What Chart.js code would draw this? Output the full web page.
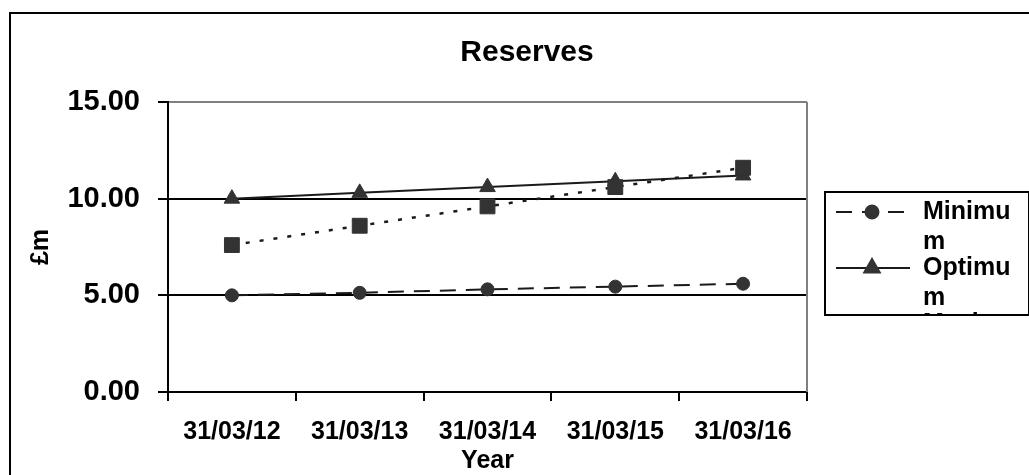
<!DOCTYPE html>
<html>
<head>
<meta charset="utf-8">
<script src="https://cdn.jsdelivr.net/npm/chart.js@4.4.1/dist/chart.umd.min.js"></script>
<style>
  html, body { margin: 0; padding: 0; background: #fff; }
  #wrap { position: relative; width: 1029px; height: 475px; overflow: hidden; }
  canvas { display: block; }
</style>
</head>
<body>
<div id="wrap"><canvas id="c" width="1029" height="475"></canvas></div>
<script>
// ---- data ----
const categories = ['31/03/12', '31/03/13', '31/03/14', '31/03/15', '31/03/16'];
const minimumValues = [5.0, 5.13, 5.31, 5.45, 5.6];
const optimumValues = [10.0, 10.3, 10.6, 10.9, 11.2];
const maximumValues = [7.6, 8.6, 9.6, 10.6, 11.6];
const seriesNames = ['Minimum', 'Optimum', 'Maximum'];
const chartTitle = 'Reserves';
const yAxisTitle = '£m';
const xAxisTitle = 'Year';
const yMin = 0, yMax = 15, yStep = 5;

const FONT = '"Liberation Sans", Arial, sans-serif';
const LINE = '#1a1a1a';
const MARK = '#333333';

const framePlugin = {
  id: 'frame',
  beforeDraw(chart) {
    const ctx = chart.ctx;
    ctx.save();
    ctx.fillStyle = '#fff';
    ctx.fillRect(0, 0, chart.width, chart.height);
    ctx.strokeStyle = '#000';
    ctx.lineWidth = 2;
    ctx.strokeRect(10, 13, 1060, 520);
    ctx.restore();
  },
  beforeDatasetsDraw(chart) {
    const a = chart.chartArea, ctx = chart.ctx;
    ctx.save();
    ctx.strokeStyle = '#808080';
    ctx.lineWidth = 2;
    ctx.beginPath();
    ctx.moveTo(a.right, a.top);
    ctx.lineTo(a.right, a.bottom);
    ctx.stroke();
    ctx.restore();
  },
  afterDraw(chart) {
    const ctx = chart.ctx, a = chart.chartArea;
    ctx.save();
    ctx.fillStyle = '#000';
    // title
    ctx.font = 'bold 30px ' + FONT;
    ctx.textAlign = 'center';
    ctx.textBaseline = 'middle';
    ctx.fillText(chartTitle, 527, 53);
    // x title
    ctx.font = 'bold 25px ' + FONT;
    ctx.fillText(xAxisTitle, (a.left + a.right) / 2, 461);
    // y title
    ctx.save();
    ctx.translate(41, 247);
    ctx.rotate(-Math.PI / 2);
    ctx.fillText(yAxisTitle, 0, 0);
    ctx.restore();

    // legend box (clipped)
    const bx = 825, by = 192, bw = 204, bh = 123;
    ctx.save();
    ctx.beginPath();
    ctx.rect(bx - 1, by - 1, bw + 2, bh + 2);
    ctx.clip();
    ctx.fillStyle = '#fff';
    ctx.fillRect(bx, by, bw, bh);
    chart.data.datasets.forEach((ds, i) => {
      const y = 212 + i * 56;
      ctx.save();
      ctx.strokeStyle = ds.borderColor;
      ctx.lineWidth = ds.borderWidth;
      ctx.setLineDash(ds.borderDash || []);
      ctx.beginPath();
      ctx.moveTo(836, y);
      ctx.lineTo(910, y);
      ctx.stroke();
      ctx.setLineDash([]);
      ctx.fillStyle = ds.pointBackgroundColor;
      ctx.strokeStyle = ds.pointBorderColor;
      Chart.helpers.drawPoint(ctx, {
        pointStyle: ds.pointStyle, radius: ds.pointRadius, rotation: 0, borderWidth: 1
      }, 872, y);
      ctx.restore();
      // text with char wrap
      ctx.fillStyle = '#000';
      ctx.font = 'bold 25px ' + FONT;
      ctx.textAlign = 'left';
      ctx.textBaseline = 'middle';
      const maxW = 100;
      const lines = [];
      let cur = '';
      for (const ch of ds.label) {
        if (cur && ctx.measureText(cur + ch).width > maxW) { lines.push(cur); cur = ch; }
        else cur += ch;
      }
      if (cur) lines.push(cur);
      lines.forEach((t, k) => ctx.fillText(t, 923, y + k * 30));
    });
    ctx.restore();
    ctx.strokeStyle = '#000';
    ctx.lineWidth = 2;
    ctx.strokeRect(bx, by, bw, bh);
    ctx.restore();
  }
};

new Chart(document.getElementById('c'), {
  type: 'line',
  data: {
    labels: categories,
    datasets: [
      {
        label: seriesNames[0], data: minimumValues, order: 2,
        borderColor: LINE, borderWidth: 2, borderDash: [16, 10],
        pointStyle: 'circle', pointRadius: 6.5, pointHoverRadius: 6.5,
        pointBackgroundColor: MARK, pointBorderColor: MARK, pointBorderWidth: 1
      },
      {
        label: seriesNames[1], data: optimumValues, order: 1,
        borderColor: LINE, borderWidth: 2,
        pointStyle: 'triangle', pointRadius: 9, pointHoverRadius: 9,
        pointBackgroundColor: MARK, pointBorderColor: MARK, pointBorderWidth: 1
      },
      {
        label: seriesNames[2], data: maximumValues, order: 0,
        borderColor: LINE, borderWidth: 2.5, borderDash: [4, 10],
        pointStyle: 'rect', pointRadius: 10.5, pointHoverRadius: 10.5,
        pointBackgroundColor: MARK, pointBorderColor: MARK, pointBorderWidth: 1
      }
    ]
  },
  options: {
    responsive: false,
    animation: false,
    events: [],
    layout: { padding: { left: 0, top: 102, right: 222, bottom: 0 } },
    plugins: { legend: { display: false }, title: { display: false }, tooltip: { enabled: false } },
    scales: {
      x: {
        type: 'category',
        offset: true,
        grid: { offset: true, drawOnChartArea: false, drawTicks: true, tickLength: 9, color: '#000', lineWidth: 2 },
        border: { color: '#000', width: 2 },
        ticks: { color: '#000', font: { family: FONT, size: 25, weight: 'bold' }, padding: 16, maxRotation: 0, autoSkip: false },
        afterFit(s) { s.height = 83; }
      },
      y: {
        min: yMin, max: yMax,
        grid: {
          color: (c) => (c.tick && c.tick.value === yMax ? '#808080' : '#000'),
          tickColor: '#000', lineWidth: 2, tickLength: 10
        },
        border: { color: '#000', width: 2 },
        ticks: {
          stepSize: yStep, color: '#000', padding: 18,
          font: { family: FONT, size: 29, weight: 'bold' },
          callback: (v) => Number(v).toFixed(2)
        },
        afterFit(s) { s.width = 168; }
      }
    }
  },
  plugins: [framePlugin]
});
</script>
</body>
</html>
